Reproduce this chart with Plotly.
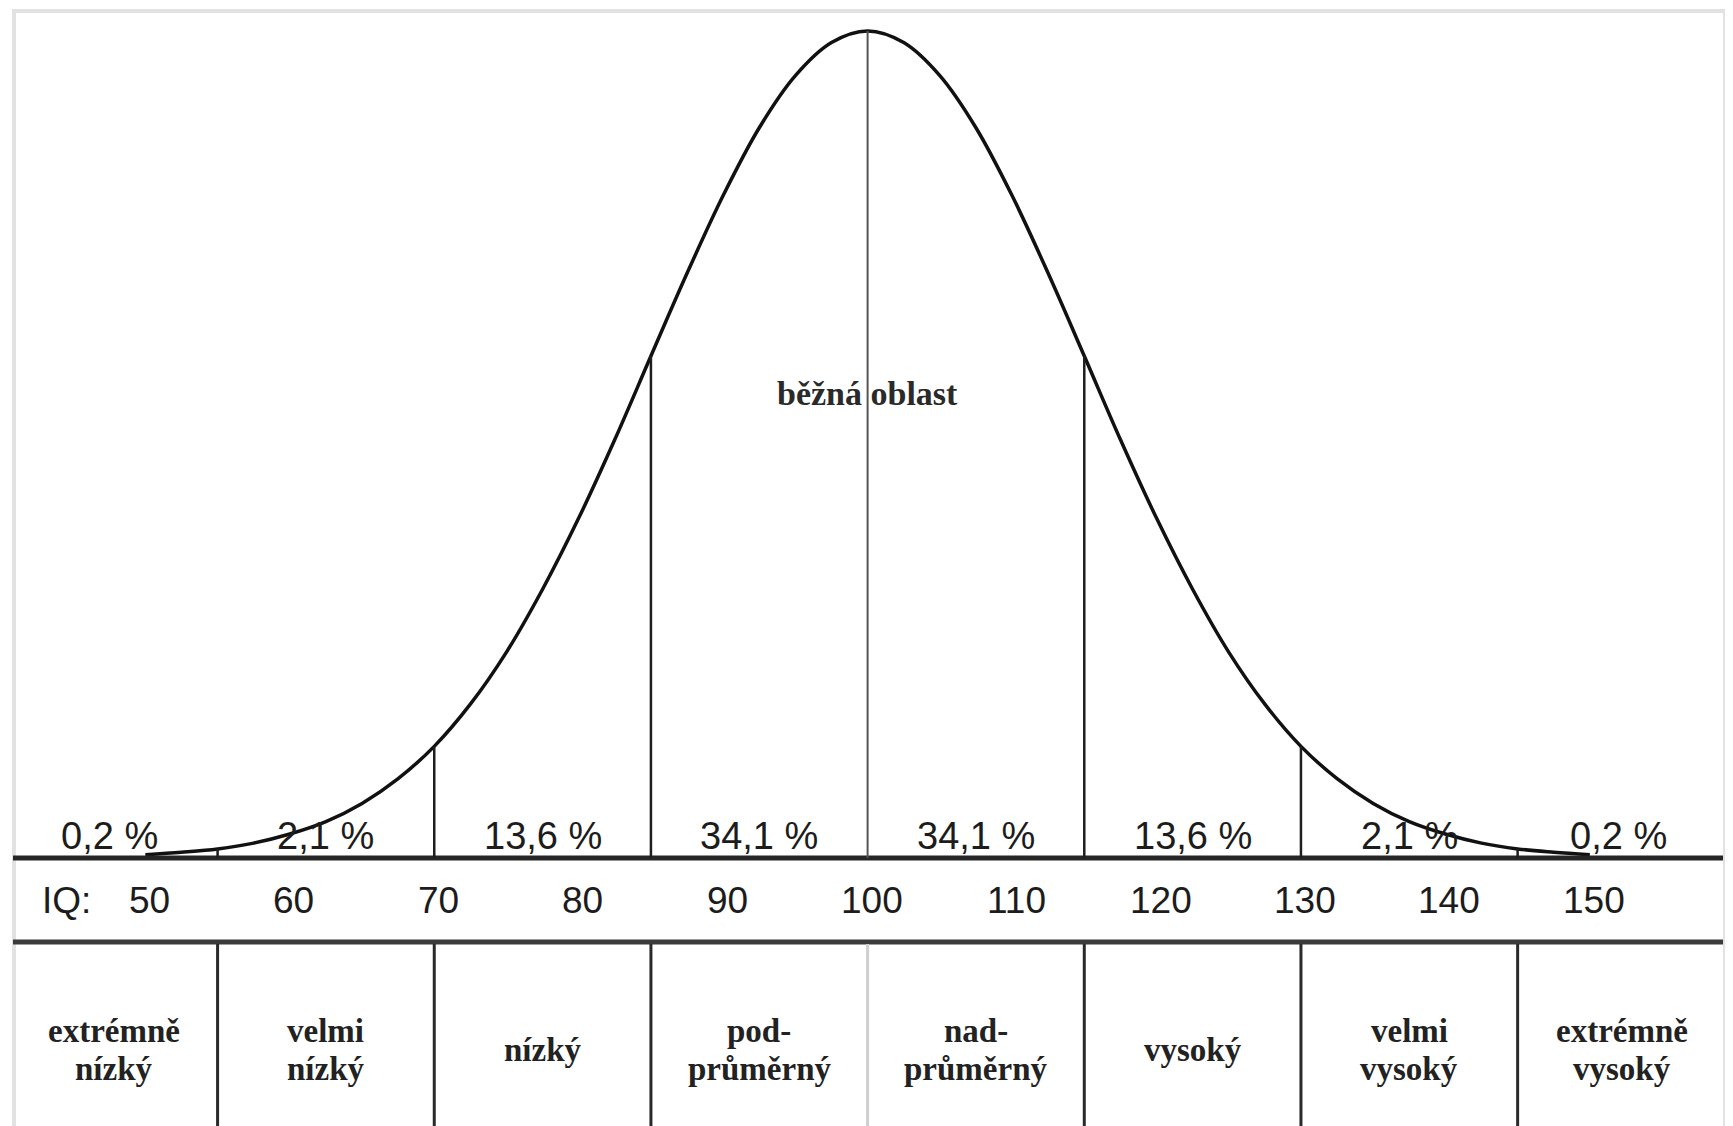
import plotly.graph_objects as go

# ---------------- data ----------------
iq_points = [50, 52.5, 55, 57.5, 60, 62.5, 65, 67.5, 70, 72.5, 75, 77.5, 80, 82.5,
             85, 87.5, 90, 92.5, 95, 97.5, 100, 102.5, 105, 107.5, 110, 112.5, 115, 117.5,
             120, 122.5, 125, 127.5, 130, 132.5, 135, 137.5, 140, 142.5, 145, 147.5, 150]
curve_height = [0.4, 0.7, 1.1, 1.8, 2.9, 4.4, 6.6, 9.6, 13.5, 18.6, 24.9, 32.5, 41.1, 50.6,
                60.7, 70.7, 80.1, 88.3, 94.6, 98.6, 100.0, 98.6, 94.6, 88.3, 80.1, 70.7, 60.7, 50.6,
                41.1, 32.5, 24.9, 18.6, 13.5, 9.6, 6.6, 4.4, 2.9, 1.8, 1.1, 0.7, 0.4]

cut_points = [55, 70, 85, 100, 115, 130, 145]

pct_labels = ["0,2 %", "2,1 %", "13,6 %", "34,1 %", "34,1 %", "13,6 %", "2,1 %", "0,2 %"]
pct_pos = [47.5, 62.5, 77.5, 92.5, 107.5, 122.5, 137.5, 152.0]

iq_ticks = [50, 60, 70, 80, 90, 100, 110, 120, 130, 140, 150]
iq_prefix = "IQ:"

category_lines = [["extrémně", "nízký"], ["velmi", "nízký"], ["nízký"], ["pod-", "průměrný"],
                  ["nad-", "průměrný"], ["vysoký"], ["velmi", "vysoký"], ["extrémně", "vysoký"]]
category_pos = [47.8, 62.5, 77.5, 92.5, 107.5, 122.5, 137.5, 152.2]

center_label = "běžná oblast"
center_pos = 100

# ---------------- layout helpers ----------------
OFF = 8                      # page body margin
W, H = 1725, 1118            # figure size so that it ends at the window edge
BASE_PX = 858                # page row of the baseline
PX_PER_IQ = 14.445
IQ100_PX = 867.6
PX_PER_UNIT = 8.27           # curve units -> pixels
X_RANGE = [100 - (IQ100_PX - OFF) / PX_PER_IQ, 100 + (OFF + W - IQ100_PX) / PX_PER_IQ]
Y_RANGE = [-(H + OFF - BASE_PX) / PX_PER_UNIT, (BASE_PX - OFF) / PX_PER_UNIT]


def py(px):
    return 1 - (px - OFF) / H


def px_x(px):
    return (px - OFF) / W


SANS = "Liberation Sans, Arial, sans-serif"
SERIF = "Liberation Serif, Times New Roman, serif"
INK = "#1c1c1c"

fig = go.Figure()
fig.add_trace(go.Scatter(x=iq_points, y=curve_height, mode="lines",
                         line=dict(color="#111111", width=3.5, shape="spline", smoothing=1.0),
                         hoverinfo="skip"))

shapes = []
# outer light frame
shapes.append(dict(type="rect", xref="paper", yref="paper", x0=px_x(14), x1=px_x(1725),
                   y0=-0.02, y1=py(11), line=dict(color="#e2e2e2", width=4), layer="below"))
# baseline and second table line
shapes.append(dict(type="line", xref="paper", yref="paper", x0=px_x(13), x1=px_x(1723),
                   y0=py(BASE_PX), y1=py(BASE_PX), line=dict(color="#262626", width=5)))
shapes.append(dict(type="line", xref="paper", yref="paper", x0=px_x(13), x1=px_x(1723),
                   y0=py(942), y1=py(942), line=dict(color="#3a3a3a", width=5)))

# vertical lines from baseline up to the curve, and table dividers
for c in cut_points:
    top = curve_height[iq_points.index(c)]
    centre = (c == center_pos)
    shapes.append(dict(type="line", xref="x", yref="y", x0=c, x1=c, y0=0, y1=top,
                       line=dict(color="#555555" if centre else "#1e1e1e",
                                 width=2 if centre else 2.5)))
    shapes.append(dict(type="line", xref="x", yref="paper", x0=c, x1=c, y0=-0.01, y1=py(944),
                       line=dict(color="#cfcfcf" if centre else "#2a2a2a", width=3)))

annotations = []
for t, xp in zip(pct_labels, pct_pos):
    annotations.append(dict(x=xp, y=py(836), xref="x", yref="paper", text=t, showarrow=False,
                            font=dict(family=SANS, size=38, color=INK),
                            xanchor="center", yanchor="middle"))
for v in iq_ticks:
    annotations.append(dict(x=v, y=py(900), xref="x", yref="paper", text=str(v), showarrow=False,
                            xshift=4, font=dict(family=SANS, size=37, color=INK),
                            xanchor="center", yanchor="middle"))
annotations.append(dict(x=px_x(66), y=py(900), xref="paper", yref="paper", text=iq_prefix,
                        showarrow=False, font=dict(family=SANS, size=37, color=INK),
                        xanchor="center", yanchor="middle"))

for lines, xp in zip(category_lines, category_pos):
    rows = [1050] if len(lines) == 1 else [1031, 1069]
    for t, r in zip(lines, rows):
        annotations.append(dict(x=xp, y=py(r), xref="x", yref="paper", text="<b>%s</b>" % t,
                                showarrow=False, font=dict(family=SERIF, size=33, color="#222222"),
                                xanchor="center", yanchor="middle"))

annotations.append(dict(x=center_pos, y=py(393), xref="x", yref="paper",
                        text="<b>%s</b>" % center_label, showarrow=False,
                        font=dict(family=SERIF, size=34, color="#2a2a2a"),
                        xanchor="center", yanchor="middle"))

fig.update_layout(
    width=W, height=H,
    margin=dict(l=0, r=0, t=0, b=0),
    paper_bgcolor="white", plot_bgcolor="white",
    showlegend=False,
    xaxis=dict(range=X_RANGE, visible=False, fixedrange=True),
    yaxis=dict(range=Y_RANGE, visible=False, fixedrange=True),
    shapes=shapes,
    annotations=annotations,
)

fig.write_html("out.html")
